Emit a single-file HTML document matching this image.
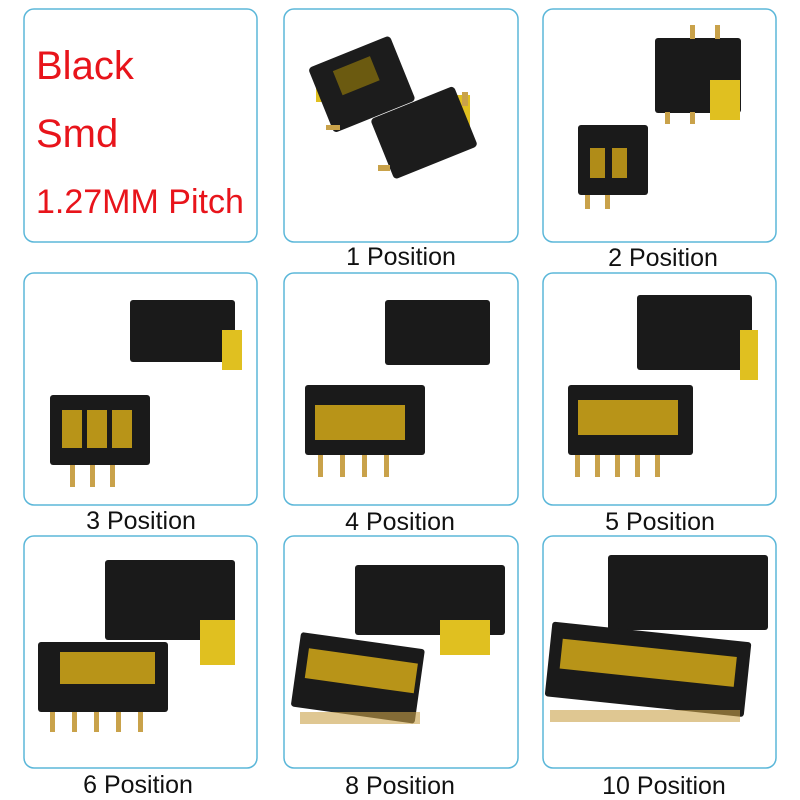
<!DOCTYPE html>
<html><head><meta charset="utf-8"><style>
html,body{margin:0;padding:0;background:#fff;width:800px;height:800px;overflow:hidden}
text{font-family:"Liberation Sans",sans-serif}
</style></head><body>
<svg width="800" height="800" viewBox="0 0 800 800" xmlns="http://www.w3.org/2000/svg">
<g fill="none" stroke="#5bb7d9" stroke-width="1.5">
<rect x="24" y="9" width="233" height="233" rx="10"/>
<rect x="284" y="9" width="234" height="233" rx="10"/>
<rect x="543" y="9" width="233" height="233" rx="10"/>
<rect x="24" y="273" width="233" height="232" rx="10"/>
<rect x="284" y="273" width="234" height="232" rx="10"/>
<rect x="543" y="273" width="233" height="232" rx="10"/>
<rect x="24" y="536" width="233" height="232" rx="10"/>
<rect x="284" y="536" width="234" height="232" rx="10"/>
<rect x="543" y="536" width="233" height="232" rx="10"/>
</g>
<text x="36" y="79" font-size="40" fill="#e8141b">Black</text>
<text x="36" y="147" font-size="40" fill="#e8141b">Smd</text>
<text x="36" y="213" font-size="34" fill="#e8141b">1.27MM Pitch</text>

<g font-size="25" fill="#111" text-anchor="middle">
<text x="401" y="265">1 Position</text>
<text x="663" y="266">2 Position</text>
<text x="141" y="529">3 Position</text>
<text x="400" y="530">4 Position</text>
<text x="660" y="530">5 Position</text>
<text x="138" y="793">6 Position</text>
<text x="400" y="794">8 Position</text>
<text x="664" y="794">10 Position</text>
</g>

<g>
<rect x="316" y="80" width="36" height="22" fill="#e0c020"/>
<rect x="318" y="50" width="88" height="70" rx="4" fill="#1c1c1c" transform="rotate(-22 360 85)"/>
<rect x="340" y="62" width="40" height="26" fill="#6b5a10" transform="rotate(-22 360 85)"/>
<rect x="326" y="125" width="14" height="5" fill="#c9a24a"/>
<rect x="450" y="95" width="20" height="45" fill="#e0c020"/>
<rect x="380" y="100" width="90" height="65" rx="4" fill="#1c1c1c" transform="rotate(-22 425 135)"/>
<rect x="378" y="165" width="12" height="6" fill="#c9a24a"/>
<rect x="462" y="92" width="6" height="14" fill="#c9a24a"/>
</g>
<g>
<rect x="655" y="38" width="86" height="75" rx="3" fill="#1a1a1a"/>
<rect x="710" y="80" width="30" height="40" fill="#e0c020"/>
<rect x="690" y="25" width="5" height="14" fill="#c9a24a"/><rect x="715" y="25" width="5" height="14" fill="#c9a24a"/>
<rect x="665" y="112" width="5" height="12" fill="#c9a24a"/><rect x="690" y="112" width="5" height="12" fill="#c9a24a"/>
<rect x="578" y="125" width="70" height="70" rx="3" fill="#1a1a1a"/>
<rect x="590" y="148" width="15" height="30" fill="#b08c18"/><rect x="612" y="148" width="15" height="30" fill="#b08c18"/>
<rect x="585" y="195" width="5" height="14" fill="#c9a24a"/><rect x="605" y="195" width="5" height="14" fill="#c9a24a"/>
</g>

<g>
<rect x="130" y="300" width="105" height="62" rx="3" fill="#1a1a1a"/>
<rect x="222" y="330" width="20" height="40" fill="#e0c020"/>
<rect x="50" y="395" width="100" height="70" rx="3" fill="#1a1a1a"/>
<rect x="62" y="410" width="20" height="38" fill="#b89418"/><rect x="87" y="410" width="20" height="38" fill="#b89418"/><rect x="112" y="410" width="20" height="38" fill="#b89418"/>
<rect x="70" y="465" width="5" height="22" fill="#c9a24a"/><rect x="90" y="465" width="5" height="22" fill="#c9a24a"/><rect x="110" y="465" width="5" height="22" fill="#c9a24a"/>
</g>
<g>
<rect x="385" y="300" width="105" height="65" rx="3" fill="#1a1a1a"/>
<rect x="305" y="385" width="120" height="70" rx="3" fill="#1a1a1a"/>
<rect x="315" y="405" width="90" height="35" fill="#b89418"/>
<rect x="318" y="455" width="5" height="22" fill="#c9a24a"/><rect x="340" y="455" width="5" height="22" fill="#c9a24a"/><rect x="362" y="455" width="5" height="22" fill="#c9a24a"/><rect x="384" y="455" width="5" height="22" fill="#c9a24a"/>
</g>
<g>
<rect x="637" y="295" width="115" height="75" rx="3" fill="#1a1a1a"/>
<rect x="740" y="330" width="18" height="50" fill="#e0c020"/>
<rect x="568" y="385" width="125" height="70" rx="3" fill="#1a1a1a"/>
<rect x="578" y="400" width="100" height="35" fill="#b89418"/>
<rect x="575" y="455" width="5" height="22" fill="#c9a24a"/><rect x="595" y="455" width="5" height="22" fill="#c9a24a"/><rect x="615" y="455" width="5" height="22" fill="#c9a24a"/><rect x="635" y="455" width="5" height="22" fill="#c9a24a"/><rect x="655" y="455" width="5" height="22" fill="#c9a24a"/>
</g>
<g>
<rect x="105" y="560" width="130" height="80" rx="3" fill="#1a1a1a"/>
<rect x="200" y="620" width="35" height="45" fill="#e0c020"/>
<rect x="38" y="642" width="130" height="70" rx="3" fill="#1a1a1a"/>
<rect x="60" y="652" width="95" height="32" fill="#b89418"/>
<rect x="50" y="712" width="5" height="20" fill="#c9a24a"/><rect x="72" y="712" width="5" height="20" fill="#c9a24a"/><rect x="94" y="712" width="5" height="20" fill="#c9a24a"/><rect x="116" y="712" width="5" height="20" fill="#c9a24a"/><rect x="138" y="712" width="5" height="20" fill="#c9a24a"/>
</g>
<g>
<rect x="355" y="565" width="150" height="70" rx="3" fill="#1a1a1a"/>
<rect x="440" y="620" width="50" height="35" fill="#e0c020"/>
<rect x="295" y="640" width="125" height="75" rx="3" fill="#1a1a1a" transform="rotate(8 355 680)"/>
<rect x="305" y="655" width="110" height="30" fill="#b89418" transform="rotate(8 355 680)"/>
<rect x="300" y="712" width="120" height="12" fill="#c9a24a" opacity="0.6"/>
</g>
<g>
<rect x="608" y="555" width="160" height="75" rx="3" fill="#1a1a1a"/>
<rect x="548" y="632" width="200" height="75" rx="3" fill="#1a1a1a" transform="rotate(6 650 670)"/>
<rect x="560" y="648" width="175" height="30" fill="#b89418" transform="rotate(6 650 670)"/>
<rect x="550" y="710" width="190" height="12" fill="#c9a24a" opacity="0.6"/>
</g>
</svg>
</body></html>
